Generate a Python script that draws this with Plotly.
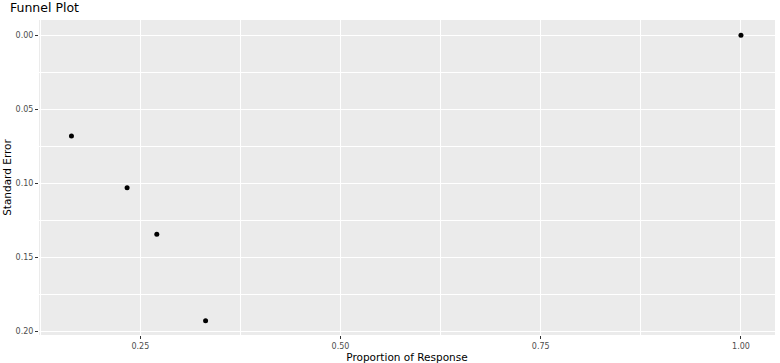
import plotly.graph_objects as go

proportion = [0.164, 0.2335, 0.2706, 0.3315, 1.0]
std_error = [0.068, 0.103, 0.1343, 0.1926, 0.0]

x_ticks = [0.25, 0.50, 0.75, 1.00]
x_labels = ["0.25", "0.50", "0.75", "1.00"]
y_ticks = [0.00, 0.05, 0.10, 0.15, 0.20]
y_labels = ["0.00", "0.05", "0.10", "0.15", "0.20"]

fig = go.Figure()
fig.add_trace(go.Scatter(
    x=proportion, y=std_error, mode="markers",
    marker=dict(color="black", size=5),
    hoverinfo="x+y", showlegend=False,
))

axis_common = dict(
    automargin=False,
    showgrid=True, gridcolor="white", gridwidth=1.1,
    zeroline=False, showline=False,
    ticks="outside", ticklen=3, tickcolor="#333333", tickwidth=1,
    tickfont=dict(size=8, color="#4D4D4D"),
    minor=dict(showgrid=True, gridcolor="white", gridwidth=0.5),
)

fig.update_layout(
    width=780, height=363,
    margin=dict(l=39, r=5, t=20, b=28),
    paper_bgcolor="white", plot_bgcolor="#EBEBEB",
    font=dict(family="DejaVu Sans", color="black"),
    title=dict(text="Funnel Plot", x=0, xref="paper", xanchor="left",
               y=1, yref="container", yanchor="top", pad=dict(t=3, l=-29),
               font=dict(size=12.5, color="black")),
    xaxis=dict(axis_common, range=[0.1235, 1.0425], tickvals=x_ticks, ticktext=x_labels,
               title=dict(text="Proportion of Response", font=dict(size=10.5), standoff=1)),
    yaxis=dict(axis_common, range=[0.2023, -0.0103], tickvals=y_ticks, ticktext=y_labels,
               title=dict(text="Standard Error", font=dict(size=10.5), standoff=1)),
)
fig.update_xaxes(minor=dict(tickvals=[0.125, 0.375, 0.625, 0.875], ticks=""))
fig.update_yaxes(minor=dict(tickvals=[0.025, 0.075, 0.125, 0.175], ticks=""))

fig.write_html("out.html")
